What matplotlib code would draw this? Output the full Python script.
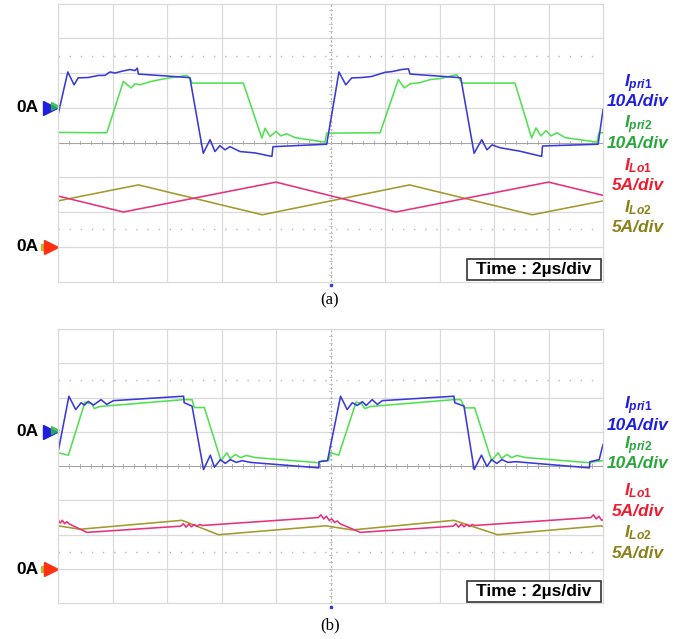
import numpy as np
import matplotlib.pyplot as plt
from matplotlib.patches import Rectangle

plt.rcParams['mathtext.fontset'] = 'custom'
plt.rcParams['mathtext.it'] = 'Liberation Sans:italic:bold'
plt.rcParams['mathtext.rm'] = 'Liberation Sans:bold'
plt.rcParams['mathtext.bf'] = 'Liberation Sans:bold'

# scope settings
pri_scale = 10.0   # A/div
lo_scale = 5.0     # A/div
pri_zero = 5.0     # div from bottom
lo_zero = 1.0

# ---- (a) ----  time in us, current in A
a_pri1_t = [0.0, 0.36, 0.59, 0.74, 1.11, 1.48, 1.72, 1.91, 2.09, 2.34, 2.64, 2.83, 2.91, 2.95, 4.78, 4.84,
            5.33, 5.58, 5.76, 5.94, 6.13, 6.31, 6.68, 7.23, 7.85, 7.89, 9.86,
            10.31, 10.56, 10.78, 11.15, 11.51, 11.88, 12.0, 12.25, 12.61, 12.86, 12.92, 14.69, 14.78,
            15.27, 15.55, 15.74, 15.93, 16.22, 16.95, 17.75, 17.78, 19.82, 20.0]
a_pri1_i = [-2.0, 10.3, 6.6, 8.6, 8.7, 9.3, 9.3, 10.3, 10.0, 10.5, 11.0, 10.7, 11.4, 9.7, 8.7, 8.6,
            -13.1, -9.2, -12.6, -10.9, -12.1, -11.2, -12.6, -13.0, -14.0, -11.2, -10.5,
            10.3, 6.6, 8.6, 8.7, 9.0, 9.9, 10.2, 10.4, 11.0, 11.2, 9.7, 8.7, 8.6,
            -13.1, -9.2, -12.1, -10.7, -11.5, -12.5, -14.0, -11.0, -10.5, -0.6]

a_pri2_t = [0.0, 1.79, 2.40, 2.68, 2.83, 3.01, 3.38, 3.74, 4.11, 4.72, 4.84, 4.92, 6.80,
            7.48, 7.60, 7.78, 8.0, 8.18, 8.39, 8.70, 9.80, 9.86,
            11.82, 12.49, 12.71, 12.92, 13.28, 13.65, 14.02, 14.63, 14.75, 14.83, 16.77,
            17.38, 17.54, 17.72, 17.91, 18.09, 18.31, 18.61, 19.78, 19.85, 20.0]
a_pri2_i = [-7.1, -7.2, 7.6, 5.7, 6.9, 6.6, 7.5, 8.1, 8.6, 9.3, 8.6, 7.1, 7.1,
            -8.7, -5.9, -8.3, -6.8, -8.1, -7.5, -8.6, -9.9, -7.3,
            -7.2, 8.1, 5.7, 6.9, 7.2, 8.1, 8.4, 9.5, 8.1, 7.1, 7.1,
            -8.7, -5.8, -8.1, -6.6, -8.1, -7.2, -8.6, -9.9, -7.2, -7.2]

a_lo1_t = [0.0, 2.4, 8.0, 12.4, 18.0, 20.0]
a_lo1_i = [7.3, 5.0, 9.3, 5.0, 9.3, 7.4]

a_lo2_t = [0.0, 2.95, 7.5, 12.9, 17.4, 20.0]
a_lo2_i = [6.6, 8.9, 4.6, 8.9, 4.6, 6.6]

# ---- (b) ----
b_pri1_t = [0.0, 0.40, 0.65, 0.85, 0.97, 1.11, 1.30, 1.58, 1.79, 2.03, 4.61, 4.63, 4.92,
            5.34, 5.59, 5.74, 5.96, 6.14, 6.32, 6.54, 6.76, 7.06, 9.57, 9.58, 9.89,
            10.37, 10.61, 10.80, 10.98, 11.17, 11.31, 11.53, 11.72, 11.90, 14.53, 14.56, 14.90,
            15.27, 15.54, 15.74, 15.91, 16.10, 16.29, 16.51, 16.80, 19.50, 19.52, 19.86, 20.0]
b_pri1_i = [-6.0, 10.4, 6.5, 8.5, 7.8, 8.9, 7.8, 9.4, 8.0, 9.1, 10.4, 8.5, 7.5,
            -11.0, -6.8, -10.3, -8.1, -9.2, -8.1, -8.9, -8.4, -8.9, -10.5, -8.7, -8.4,
            10.4, 6.5, 8.5, 7.7, 8.8, 7.7, 9.4, 8.0, 9.1, 10.4, 8.5, 7.5,
            -11.0, -6.8, -10.1, -8.1, -9.2, -8.1, -8.9, -8.7, -10.5, -8.7, -8.1, -3.7]

b_pri2_t = [0.0, 0.38, 0.99, 1.24, 1.33, 1.54, 4.61, 4.92, 5.0, 5.37,
            5.98, 6.20, 6.32, 6.51, 6.69, 6.91, 7.24, 9.57, 9.69, 9.93, 10.0, 10.30,
            10.94, 11.14, 11.26, 11.47, 14.53, 14.78, 14.93, 15.29,
            15.91, 16.15, 16.28, 16.47, 16.65, 16.84, 17.17, 19.50, 19.68, 20.0]
b_pri2_i = [-6.1, -6.8, 8.7, 8.2, 6.8, 7.4, 9.4, 9.4, 7.1, 7.1,
            -8.4, -6.1, -7.8, -6.6, -7.5, -6.9, -7.5, -9.0, -8.4, -8.4, -6.1, -6.8,
            8.7, 8.2, 6.8, 7.4, 9.4, 9.4, 7.0, 7.0,
            -8.4, -6.1, -7.8, -6.6, -7.5, -6.9, -7.5, -9.0, -8.7, -8.4]

b_lo1_t = [0.0, 0.08, 0.16, 0.24, 0.32, 0.4, 1.06, 4.5, 4.6, 4.7, 4.8, 4.9, 5.0, 5.1, 5.2, 5.3,
           9.55, 9.65, 9.75, 9.85, 9.95, 10.05, 10.15, 10.25, 10.35, 11.1,
           14.5, 14.6, 14.7, 14.8, 14.9, 15.0, 15.1, 15.2, 15.3,
           19.55, 19.65, 19.75, 19.85, 19.95, 20.0]
b_lo1_i = [7.2, 6.7, 7.1, 6.6, 6.9, 6.6, 5.34, 6.25, 6.6, 6.1, 6.55, 6.15, 6.5, 6.2, 6.5, 6.35,
           7.5, 7.9, 7.3, 7.7, 7.1, 7.3, 6.8, 7.0, 6.6, 5.34,
           6.25, 6.6, 6.1, 6.55, 6.15, 6.5, 6.2, 6.5, 6.35,
           7.5, 7.9, 7.3, 7.7, 7.1, 7.2]

b_lo2_t = [0.0, 0.81, 4.55, 5.89, 9.82, 10.80, 14.53, 16.13, 19.93, 20.0]
b_lo2_i = [6.3, 5.8, 7.1, 5.0, 6.3, 5.7, 7.1, 5.0, 6.3, 6.2]

c_blue = '#3a3ad8'
c_green = '#52e052'
c_pink = '#e8307c'
c_olive = '#a29a2c'
grid_c = '#dadada'
mid_c = '#a4a4a4'


def scope(ax, pri1, pri2, lo1, lo2):
    ax.set_xlim(0, 20)
    ax.set_ylim(0, 8)
    ax.set_xticks([])
    ax.set_yticks([])
    for s in ax.spines.values():
        s.set_color(grid_c)
        s.set_linewidth(0.9)
    for k in range(1, 10):
        if k != 5:
            ax.axvline(k * 2, color=grid_c, lw=0.9, zorder=0)
    for k in range(1, 8):
        if k != 4:
            ax.axhline(k, color=grid_c, lw=0.9, zorder=0)
    # dotted lines
    ax.axhline(1.5, color='#b8b8b8', lw=1.0, ls=(0, (1, 7)), zorder=0)
    ax.axhline(6.5, color='#b8b8b8', lw=1.0, ls=(0, (1, 7)), zorder=0)
    # centre cross with small ticks
    ax.axhline(4, color=mid_c, lw=0.8, zorder=0)
    ax.axvline(10, color='#b4b4b4', lw=0.8, ls=(0, (2, 2)), zorder=0)
    for x in np.arange(0, 20.01, 0.4):
        ax.plot([x, x], [3.95, 4.05], color=mid_c, lw=0.6, zorder=0)
    for y in np.arange(0, 8.01, 0.2):
        ax.plot([9.93, 10.07], [y, y], color='#bcbcbc', lw=0.6, zorder=0)

    ax.plot(lo2[0], lo_zero + np.array(lo2[1]) / lo_scale, color=c_olive, lw=1.15)
    ax.plot(lo1[0], lo_zero + np.array(lo1[1]) / lo_scale, color=c_pink, lw=1.15)
    ax.plot(pri2[0], pri_zero + np.array(pri2[1]) / pri_scale, color=c_green, lw=1.15)
    ax.plot(pri1[0], pri_zero + np.array(pri1[1]) / pri_scale, color=c_blue, lw=1.15)

    # channel ground markers
    ax.plot(-0.29, pri_zero, marker='>', ms=10, color='#1f1fe0', clip_on=False)
    ax.plot(-0.12, pri_zero + 0.04, marker='>', ms=6, color='#2db84a', alpha=0.8, clip_on=False)
    ax.plot(-0.52, lo_zero, marker='s', ms=5, color='#c0b830', clip_on=False)
    ax.plot(-0.24, lo_zero, marker='>', ms=10, color='#ff3010', clip_on=False)
    for y0 in (pri_zero, lo_zero):
        ax.text(-0.7, y0, '0A', ha='right', va='center', fontsize=12.5,
                fontweight='bold', family='Liberation Sans')
    # trigger point
    ax.plot(10, -0.1, marker='s', ms=2, color=c_blue, clip_on=False)

    ax.add_patch(Rectangle((15.0, 0.03), 4.93, 0.63, facecolor='white',
                           edgecolor='#333333', lw=1.2, zorder=5))
    ax.text(17.47, 0.35, 'Time : 2µs/div', ha='center', va='center', fontsize=12.5,
            fontweight='bold', family='Liberation Sans', zorder=6)


fig = plt.figure(figsize=(6.92, 6.39), dpi=100)
W, H = 692.0, 639.0
ax_a = fig.add_axes([58 / W, 1 - 281.5 / H, 545 / W, 278 / H])
ax_b = fig.add_axes([58 / W, 1 - 603.3 / H, 545 / W, 274.3 / H])

scope(ax_a, (a_pri1_t, a_pri1_i), (a_pri2_t, a_pri2_i), (a_lo1_t, a_lo1_i), (a_lo2_t, a_lo2_i))
scope(ax_b, (b_pri1_t, b_pri1_i), (b_pri2_t, b_pri2_i), (b_lo1_t, b_lo1_i), (b_lo2_t, b_lo2_i))

names = [r'$\mathit{I_{pri1}}$', '10A/div', r'$\mathit{I_{pri2}}$', '10A/div',
         r'$\mathit{I_{Lo1}}$', '5A/div', r'$\mathit{I_{Lo2}}$', '5A/div']
text_c = ['#1f1fe0', '#1f1fe0', '#2aa83c', '#2aa83c', '#ee1c2c', '#ee1c2c', '#8c8018', '#8c8018']
ys_a = [84, 101, 125, 144, 166, 186, 208, 228]
ys_b = [406, 425, 446, 464, 491, 511, 533, 553]
for ys in (ys_a, ys_b):
    for name, c, y in zip(names, text_c, ys):
        fig.text(638 / W, 1 - y / H, name, color=c, ha='center', va='center', fontsize=12.5,
                 fontweight='bold', fontstyle='italic', family='Liberation Sans')

fig.text(330 / W, 1 - 300 / H, '(a)', ha='center', va='center', fontsize=12, family='Liberation Serif')
fig.text(330 / W, 1 - 625 / H, '(b)', ha='center', va='center', fontsize=12, family='Liberation Serif')

fig.savefig('out.png', dpi=100)
